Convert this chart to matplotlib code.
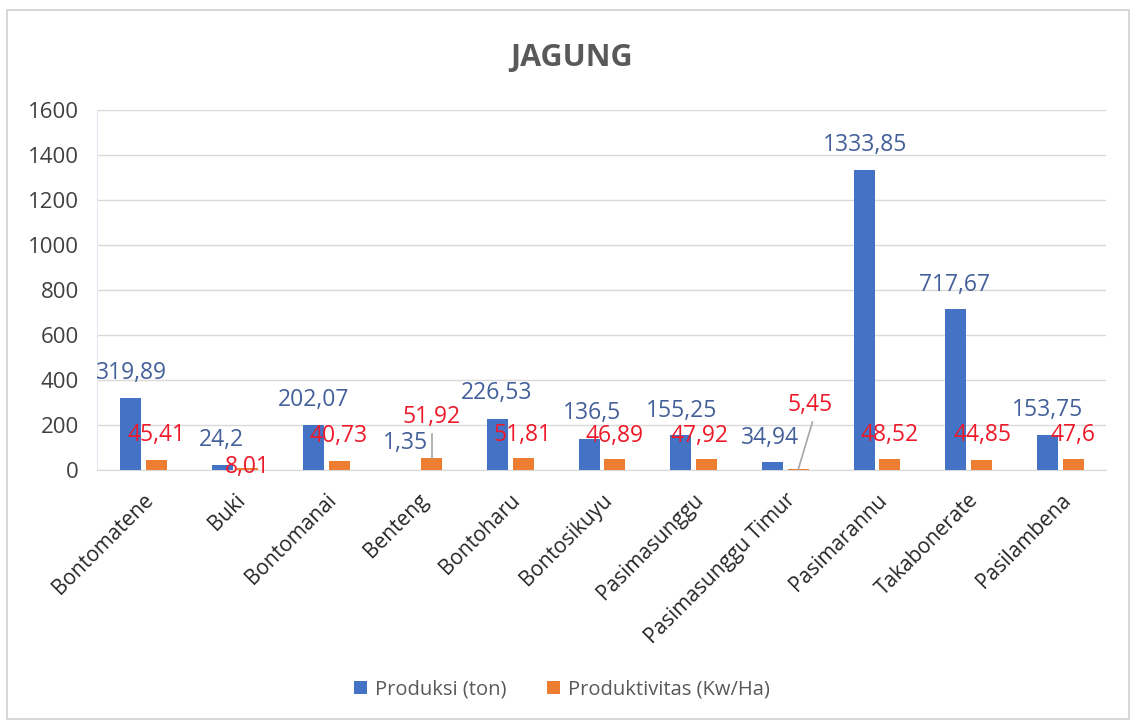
#!/usr/bin/env python3
# -*- coding: utf-8 -*-
"""JAGUNG: produksi vs produktivitas per desa (bar chart)"""

import numpy as np
import matplotlib
matplotlib.use("Agg")
import matplotlib.pyplot as plt
from matplotlib.patches import Rectangle

# ===================== data =====================
kecamatan = ["Bontomatene", "Buki", "Bontomanai", "Benteng", "Bontoharu",
             "Bontosikuyu", "Pasimasunggu", "Pasimasunggu Timur",
             "Pasimarannu", "Takabonerate", "Pasilambena"]
produksi = [319.89, 24.2, 202.07, 1.35, 226.53, 136.5, 155.25, 34.94,
            1333.85, 717.67, 153.75]
produktivitas = [45.41, 8.01, 40.73, 51.92, 51.81, 46.89, 47.92, 5.45,
                 48.52, 44.85, 47.6]
produksi_txt = ["319,89", "24,2", "202,07", "1,35", "226,53", "136,5",
                "155,25", "34,94", "1333,85", "717,67", "153,75"]
produktivitas_txt = ["45,41", "8,01", "40,73", "51,92", "51,81", "46,89",
                     "47,92", "5,45", "48,52", "44,85", "47,6"]
y_ticks = [0, 200, 400, 600, 800, 1000, 1200, 1400, 1600]

# posisi label (seperti digeser manual di Excel): (dx, y)
lbl_produksi = [(-0.12, 431), (-0.14, 133), (-0.14, 311), (-0.14, 118),
                (-0.14, 342), (-0.10, 254), (-0.13, 262), (-0.16, 142),
                (-0.13, 1444), (-0.15, 822), (-0.135, 267)]
lbl_produktivitas = [(0.15, 155), (0.14, 13), (0.13, 151), (0.15, 236),
                     (0.135, 155), (0.14, 150), (0.07, 150), (0.275, 289),
                     (0.14, 155), (0.15, 155), (0.14, 155)]

# ===================== plot =====================
C_BLUE = "#4472C4"
C_ORANGE = "#ED7D31"
C_LBL_BLUE = "#44609A"
C_LBL_RED = "#EE1A2A"
C_TXT = "#595959"

plt.rcParams["font.family"] = ["Open Sans", "DejaVu Sans"]

fig = plt.figure(figsize=(11.31, 7.22), dpi=100)
fig.patches.append(Rectangle((7 / 1131, 3 / 722), 1122 / 1131, 709 / 722,
                             transform=fig.transFigure, fill=False,
                             edgecolor="#D0D0D0", lw=1.2))

ax = fig.add_axes([0.0858, 0.349, 0.892, 0.4986])
x = np.arange(len(kecamatan))
w = 0.23
ax.bar(x - 0.135, produksi, w, color=C_BLUE, label="Produksi (ton)", zorder=3)
ax.bar(x + 0.145, produktivitas, w, color=C_ORANGE,
       label="Produktivitas (Kw/Ha)", zorder=3)

for i in range(len(kecamatan)):
    dx, yy = lbl_produksi[i]
    ax.text(i + dx, yy, produksi_txt[i], ha="center", va="center",
            color=C_LBL_BLUE, fontsize=16.5, zorder=4)
    dx, yy = lbl_produktivitas[i]
    ax.text(i + dx, yy, produktivitas_txt[i], ha="center", va="center",
            color=C_LBL_RED, fontsize=16.5, zorder=4)

# garis penunjuk label
ax.plot([3.155, 3.155], [55, 160], color="#A6A6A6", lw=1.2, zorder=4)
ax.plot([7.3, 7.145], [213, 2], color="#A6A6A6", lw=1.2, zorder=4)

ax.set_xlim(-0.5, len(kecamatan) - 0.5)
ax.set_ylim(0, 1600)
ax.set_yticks(y_ticks)
ax.set_yticklabels([str(v) for v in y_ticks], fontsize=16, color="#404040")
ax.set_xticks(x)
ax.set_xticklabels(kecamatan, rotation=45, ha="right", va="top",
                   rotation_mode="anchor", fontsize=15, color="#262626")
ax.tick_params(axis="y", length=0, pad=13)
ax.tick_params(axis="x", length=0, pad=14)
ax.grid(axis="y", color="#D9D9D9", lw=1, zorder=0)
for s in ["top", "right"]:
    ax.spines[s].set_visible(False)
ax.spines["left"].set_color("#E3E8F2")
ax.spines["bottom"].set_color("#D9D9D9")

fig.text(0.505, 0.92, "JAGUNG", ha="center", va="center", fontsize=22,
         fontweight="bold", color=C_TXT)

leg = fig.legend(loc="center", bbox_to_anchor=(0.497, 0.045), ncol=2,
                 frameon=False, fontsize=14.5, handlelength=0.65,
                 handleheight=0.65, columnspacing=2.0, handletextpad=0.4)
for t in leg.get_texts():
    t.set_color(C_TXT)

fig.savefig("out.png", dpi=100)
